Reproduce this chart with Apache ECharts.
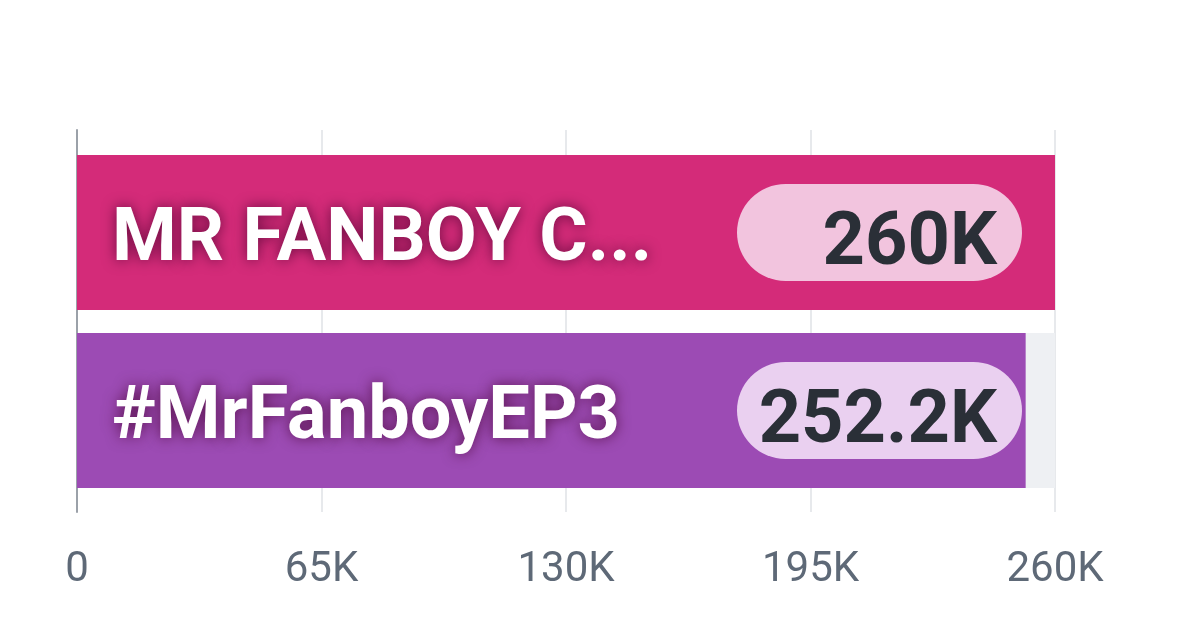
<!DOCTYPE html>
<html>
<head>
<meta charset="utf-8">
<script src="https://cdn.jsdelivr.net/npm/echarts@6/dist/echarts.min.js"></script>
<style>html,body{margin:0;padding:0;background:#fff}#c{width:1200px;height:633px}</style>
</head>
<body>
<div id="c"></div>
<script>
const categories = ['MR FANBOY C...', '#MrFanboyEP3'];
const values = [260000, 252200];
const barColors = ['#d42b79', '#9c4bb4'];
const pillColors = ['#f2c4de', '#ead0f0'];
const axisMin = 0;
const axisMax = 260000;
const axisInterval = 65000;

function fmtK(v) {
  if (v === 0) return '0';
  return (Math.round(v / 100) / 10) + 'K';
}

const chart = echarts.init(document.getElementById('c'));
chart.setOption({
  animation: false,
  grid: [
    { left: 77, right: 145, top: 130, bottom: 121 },
    { left: 77, right: 145, top: 143.5, bottom: 133.5 }
  ],
  xAxis: [
    {
      gridIndex: 0, type: 'value', min: axisMin, max: axisMax, interval: axisInterval,
      axisLine: { show: false }, axisTick: { show: false },
      splitLine: { show: true, lineStyle: { color: '#dfe2e6', width: 1.5 } },
      axisLabel: { formatter: fmtK, color: '#5e6977', fontFamily: 'Roboto', fontSize: 42, margin: 37 }
    },
    {
      gridIndex: 1, type: 'value', min: axisMin, max: axisMax, interval: axisInterval, show: false
    }
  ],
  yAxis: [
    {
      gridIndex: 0, type: 'category', data: categories, inverse: true,
      axisLine: { show: true, lineStyle: { color: '#9ba1a9', width: 2 } },
      axisTick: { show: false }, axisLabel: { show: false }, splitLine: { show: false }
    },
    {
      gridIndex: 1, type: 'category', data: categories, inverse: true, show: false
    }
  ],
  series: [
    {
      type: 'bar', xAxisIndex: 1, yAxisIndex: 1, barWidth: 155,
      data: values.map((v, i) => ({ value: v, itemStyle: { color: barColors[i] } })),
      showBackground: true,
      backgroundStyle: { color: '#eef0f3' },
      label: {
        show: true, position: 'insideLeft', distance: 35, offset: [0, 9],
        formatter: p => categories[p.dataIndex],
        color: '#ffffff', fontFamily: 'Roboto', fontWeight: 'bold', fontSize: 74,
        textShadowColor: 'rgba(70,0,45,0.75)', textShadowBlur: 14
      },
      z: 2
    },
    {
      // pill background carrier
      type: 'bar', xAxisIndex: 1, yAxisIndex: 1, barWidth: 155, barGap: '-100%',
      data: values.map((v, i) => ({
        value: axisMax,
        label: { backgroundColor: pillColors[i] }
      })),
      itemStyle: { color: 'rgba(0,0,0,0)' },
      label: {
        show: true, position: 'insideRight', distance: 33,
        formatter: ' ', fontSize: 10,
        width: 285, height: 97, borderRadius: 48.5, padding: 0
      },
      silent: true,
      z: 3
    },
    {
      // value text carrier
      type: 'bar', xAxisIndex: 1, yAxisIndex: 1, barWidth: 155, barGap: '-100%',
      data: values.map(() => axisMax),
      itemStyle: { color: 'rgba(0,0,0,0)' },
      label: {
        show: true, position: 'insideRight', distance: 58, offset: [0, 13],
        formatter: p => fmtK(values[p.dataIndex]),
        color: '#2a2f37', fontFamily: 'Roboto', fontWeight: 'bold', fontSize: 74
      },
      silent: true,
      z: 4
    }
  ]
});
</script>
</body>
</html>
